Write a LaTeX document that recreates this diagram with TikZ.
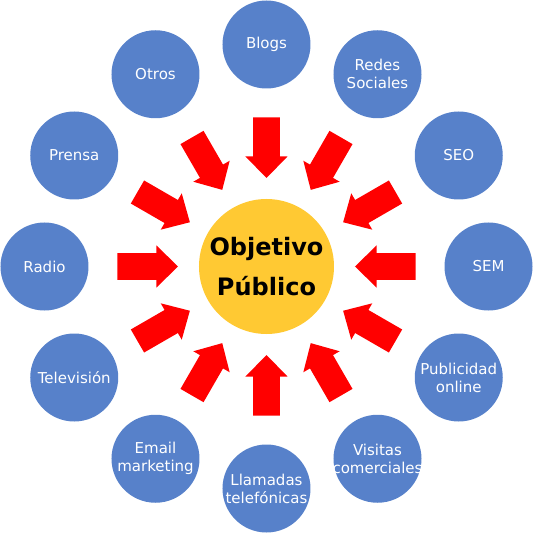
\documentclass[tikz,border=0pt]{standalone}
\usepackage{fontspec}
\setmainfont{DejaVu Sans}
\definecolor{canalblue}{RGB}{87,129,202}
\definecolor{metayellow}{RGB}{255,201,51}
\tikzstyle{canal}=[circle, fill=canalblue, text=white, minimum size=88pt, inner sep=-5pt, align=center, font=\fontsize{15}{18}\selectfont]
\tikzstyle{meta}=[circle, fill=metayellow, minimum size=135pt, inner sep=0pt, align=center, font=\fontsize{24}{40}\selectfont\bfseries]
\tikzstyle{flecha}=[fill=red]

\begin{document}
\begin{tikzpicture}[x=1pt,y=1pt]
\useasboundingbox (-266.5,-266.5) rectangle (266.5,266.5);

				\node[meta] (obj) at (0,0) {Objetivo\\Público};

				\node[canal] (blogs) at (90:222) {Blogs};
				\node[canal] (redes) at (60:222) {Redes\\Sociales};
				\node[canal] (seo) at (30:222) {SEO};
				\node[canal] (sem) at (0:222) {SEM};
				\node[canal] (publi) at (-30:222) {Publicidad\\online};
				\node[canal] (visitas) at (-60:222) {Visitas\\comerciales};
				\node[canal] (llamadas) at (-90:222) {Llamadas\\telefónicas};
				\node[canal] (email) at (-120:222) {Email\\marketing};
				\node[canal] (tele) at (-150:222) {Televisión};
				\node[canal] (radio) at (180:222) {Radio};
				\node[canal] (prensa) at (150:222) {Prensa};
				\node[canal] (otros) at (120:222) {Otros};

				% flechas hacia el centro
				\foreach \a in {0,30,...,330}
					\fill[flecha, rotate=\a] (149,13.3) -- (110,13.3) -- (110,21) -- (88.5,0) -- (110,-21) -- (110,-13.3) -- (149,-13.3) -- cycle;
\end{tikzpicture}
\end{document}
